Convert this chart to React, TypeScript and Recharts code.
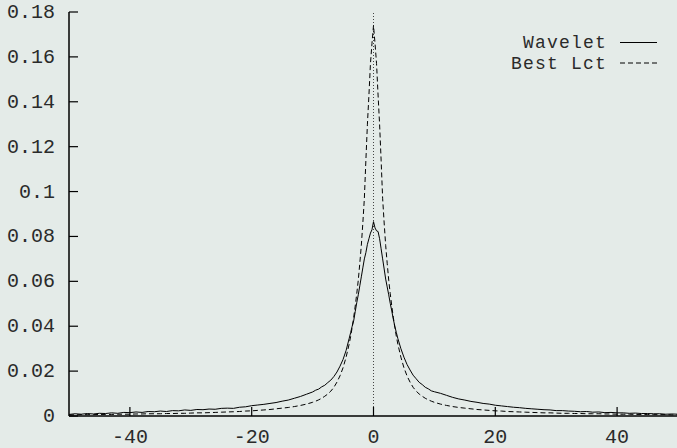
import React from 'react';
import { LineChart, Line, XAxis, YAxis, ReferenceLine, Legend } from 'recharts';

const xValues = [
  -50, -49, -48, -47, -46, -45, -44, -43, -42, -41,
  -40, -39, -38, -37, -36, -35, -34, -33, -32, -31,
  -30, -29, -28, -27, -26, -25, -24, -23, -22, -21,
  -20, -19, -18, -17, -16, -15, -14, -13, -12, -11,
  -10, -9.5, -9, -8.5, -8, -7.5, -7, -6.5, -6, -5.5, -5, -4.5,
  -4, -3.75, -3.5, -3.25, -3, -2.75, -2.5, -2.25, -2, -1.75, -1.5, -1.25, -1, -0.75, -0.5, -0.25,
  0,
  0.25, 0.5, 0.75, 1, 1.25, 1.5, 1.75, 2, 2.25, 2.5, 2.75, 3, 3.25, 3.5, 3.75, 4,
  4.5, 5, 5.5, 6, 6.5, 7, 7.5, 8, 8.5, 9, 9.5, 10,
  11, 12, 13, 14, 15, 16, 17, 18, 19, 20,
  21, 22, 23, 24, 25, 26, 27, 28, 29, 30,
  31, 32, 33, 34, 35, 36, 37, 38, 39, 40,
  41, 42, 43, 44, 45, 46, 47, 48, 49, 50,
];

const wavelet = [
  0.0007, 0.0010, 0.0008, 0.0011, 0.0009, 0.0012, 0.0011, 0.0014, 0.0012, 0.0016,
  0.0015, 0.0018, 0.0016, 0.0020, 0.0019, 0.0022, 0.0020, 0.0024, 0.0023, 0.0027,
  0.0025, 0.0029, 0.0028, 0.0031, 0.0030, 0.0034, 0.0035, 0.0034, 0.0039, 0.0041,
  0.0046, 0.0049, 0.0052, 0.0056, 0.0060, 0.0066, 0.0071, 0.0079, 0.0087, 0.0097,
  0.0107, 0.0115, 0.0120, 0.0130, 0.0137, 0.0149, 0.0160, 0.0176, 0.0196, 0.0222, 0.0252, 0.0292,
  0.0345, 0.0372, 0.0400, 0.0425, 0.0465, 0.0505, 0.0540, 0.0580, 0.0620, 0.0660, 0.0700, 0.0728, 0.0765, 0.0790, 0.0815, 0.0830,
  0.0866,
  0.0838, 0.0825, 0.0822, 0.0790, 0.0745, 0.0700, 0.0655, 0.0610, 0.0575, 0.0540, 0.0502, 0.0468, 0.0432, 0.0400, 0.0372, 0.0345,
  0.0300, 0.0262, 0.0230, 0.0205, 0.0182, 0.0166, 0.0150, 0.0140, 0.0128, 0.0121, 0.0112, 0.0108,
  0.0101, 0.0092, 0.0083, 0.0076, 0.0071, 0.0065, 0.0061, 0.0056, 0.0053, 0.0048,
  0.0045, 0.0042, 0.0039, 0.0037, 0.0034, 0.0032, 0.0030, 0.0028, 0.0027, 0.0024,
  0.0024, 0.0022, 0.0021, 0.0019, 0.0020, 0.0017, 0.0018, 0.0015, 0.0016, 0.0014,
  0.0014, 0.0012, 0.0013, 0.0011, 0.0011, 0.0010, 0.0010, 0.0008, 0.0009, 0.0008,
];

const bestLct = [
  0.0005, 0.0005, 0.0006, 0.0006, 0.0006, 0.0007, 0.0007, 0.0007, 0.0008, 0.0008,
  0.0008, 0.0009, 0.0009, 0.0010, 0.0010, 0.0010, 0.0011, 0.0011, 0.0012, 0.0012,
  0.0013, 0.0014, 0.0014, 0.0015, 0.0016, 0.0017, 0.0018, 0.0019, 0.0020, 0.0022,
  0.0023, 0.0025, 0.0027, 0.0029, 0.0032, 0.0035, 0.0038, 0.0042, 0.0047, 0.0053,
  0.0061, 0.0066, 0.0072, 0.0079, 0.0088, 0.0098, 0.0111, 0.0128, 0.0151, 0.0179, 0.0215, 0.0262,
  0.0320, 0.0355, 0.0395, 0.0440, 0.0490, 0.0545, 0.0605, 0.0680, 0.0760, 0.0860, 0.0970, 0.1140, 0.1300, 0.1430, 0.1570, 0.1660,
  0.1740,
  0.1660, 0.1570, 0.1430, 0.1300, 0.1140, 0.0970, 0.0860, 0.0760, 0.0680, 0.0605, 0.0545, 0.0490, 0.0440, 0.0395, 0.0355, 0.0320,
  0.0262, 0.0215, 0.0179, 0.0151, 0.0128, 0.0111, 0.0098, 0.0088, 0.0079, 0.0072, 0.0066, 0.0061,
  0.0053, 0.0047, 0.0042, 0.0038, 0.0035, 0.0032, 0.0029, 0.0027, 0.0025, 0.0023,
  0.0022, 0.0020, 0.0019, 0.0018, 0.0017, 0.0016, 0.0015, 0.0014, 0.0014, 0.0013,
  0.0012, 0.0012, 0.0011, 0.0011, 0.0010, 0.0010, 0.0010, 0.0009, 0.0009, 0.0008,
  0.0008, 0.0008, 0.0007, 0.0007, 0.0007, 0.0006, 0.0006, 0.0006, 0.0005, 0.0005,
];

const xTicks = [-40, -20, 0, 20, 40];
const xTickLabels = ['-40', '-20', '0', '20', '40'];
const yTicks = [0, 0.02, 0.04, 0.06, 0.08, 0.1, 0.12, 0.14, 0.16, 0.18];
const yTickLabels = ['0', '0.02', '0.04', '0.06', '0.08', '0.1', '0.12', '0.14', '0.16', '0.18'];
const seriesNames = ['Wavelet', 'Best Lct'];

const data = xValues.map((x, i) => ({ x, wavelet: wavelet[i], bestLct: bestLct[i] }));

const FONT = "'Liberation Mono', 'Courier New', monospace";
const TEXT = '#2a2a2a';
const TICK = 9;

const BottomTick = (props: any) => {
  const { x, y, index } = props;
  return (
    <g>
      <line x1={x} x2={x} y1={y} y2={y - TICK} stroke="#000" strokeWidth={1.2} />
      <text x={x} y={y + 27} textAnchor="middle" fontFamily={FONT} fontSize={20} fill={TEXT}>
        {xTickLabels[index]}
      </text>
    </g>
  );
};

const TopTick = (props: any) => {
  const { x, y } = props;
  return <line x1={x} x2={x} y1={y} y2={y + TICK} stroke="#000" strokeWidth={1.2} />;
};

const LeftTick = (props: any) => {
  const { x, y, index } = props;
  return (
    <g>
      <line x1={x} x2={x + TICK} y1={y} y2={y} stroke="#000" strokeWidth={1.2} />
      <text x={x - 14} y={y + 6} textAnchor="end" fontFamily={FONT} fontSize={20} fill={TEXT}>
        {yTickLabels[index]}
      </text>
    </g>
  );
};

const RightTick = (props: any) => {
  const { x, y } = props;
  return <line x1={x} x2={x - TICK} y1={y} y2={y} stroke="#000" strokeWidth={1.2} />;
};

const LEGEND_ROW = 20.5;

const renderLegend = () => (
  <svg width={160} height={44} style={{ display: 'block', overflow: 'visible' }}>
    {seriesNames.map((name, i) => (
      <g key={name}>
        <text
          x={106}
          y={8.5 + i * LEGEND_ROW + 5.5}
          textAnchor="end"
          fontFamily={FONT}
          fontSize={18}
          letterSpacing={1.2}
          fill={TEXT}
          style={{ whiteSpace: 'pre' }}
        >
          {name}
        </text>
        <line
          x1={119}
          x2={156}
          y1={8.5 + i * LEGEND_ROW}
          y2={8.5 + i * LEGEND_ROW}
          stroke="#000"
          strokeWidth={1}
          strokeDasharray={i === 1 ? '5 3' : undefined}
        />
      </g>
    ))}
  </svg>
);

export default function App() {
  return (
    <div
      style={{
        position: 'absolute',
        left: 0,
        top: 0,
        width: 677,
        height: 448,
        overflow: 'hidden',
        background: '#e4ebe8',
      }}
    >
      <LineChart width={678} height={448} data={data} margin={{ top: 12, right: 0, bottom: 0, left: 0 }}>
        <XAxis
          xAxisId="bottom"
          dataKey="x"
          type="number"
          domain={[-50, 50]}
          ticks={xTicks}
          allowDataOverflow
          height={32}
          tickSize={0}
          tickMargin={0}
          tickLine={false}
          axisLine={{ stroke: '#000', strokeWidth: 1.5 }}
          tick={<BottomTick />}
          interval={0}
        />
        <XAxis
          xAxisId="top"
          orientation="top"
          dataKey="x"
          type="number"
          domain={[-50, 50]}
          ticks={xTicks}
          allowDataOverflow
          height={0}
          tickSize={0}
          tickMargin={0}
          tickLine={false}
          axisLine={{ stroke: '#000', strokeWidth: 1.5 }}
          tick={<TopTick />}
          interval={0}
        />
        <YAxis
          yAxisId="left"
          type="number"
          domain={[0, 0.18]}
          ticks={yTicks}
          allowDataOverflow
          width={69}
          tickSize={0}
          tickMargin={0}
          tickLine={false}
          axisLine={{ stroke: '#000', strokeWidth: 1.5 }}
          tick={<LeftTick />}
          interval={0}
        />
        <YAxis
          yAxisId="right"
          orientation="right"
          type="number"
          domain={[0, 0.18]}
          ticks={yTicks}
          allowDataOverflow
          width={0}
          tickSize={0}
          tickMargin={0}
          tickLine={false}
          axisLine={{ stroke: '#000', strokeWidth: 1.5 }}
          tick={<RightTick />}
          interval={0}
        />
        <ReferenceLine
          x={0}
          xAxisId="bottom"
          yAxisId="left"
          stroke="#444"
          strokeWidth={1}
          strokeDasharray="1 2"
        />
        <Line
          xAxisId="bottom"
          yAxisId="left"
          type="linear"
          dataKey="wavelet"
          name="Wavelet"
          stroke="#000"
          strokeWidth={1}
          dot={false}
          isAnimationActive={false}
        />
        <Line
          xAxisId="bottom"
          yAxisId="left"
          type="linear"
          dataKey="bestLct"
          name="Best Lct"
          stroke="#000"
          strokeWidth={1}
          strokeDasharray="5 3"
          dot={false}
          isAnimationActive={false}
        />
        <Legend
          layout="vertical"
          align="center"
          verticalAlign="middle"
          content={renderLegend}
          wrapperStyle={{ position: 'absolute', top: 34, left: 501, width: 160, height: 44, margin: 0 }}
        />
      </LineChart>
    </div>
  );
}
